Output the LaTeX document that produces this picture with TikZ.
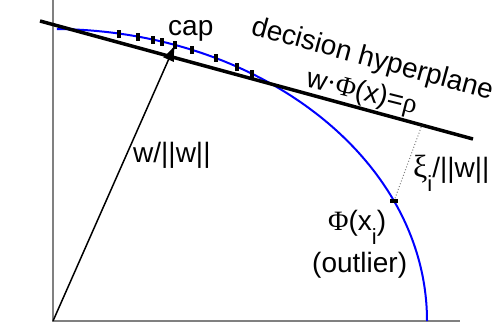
\documentclass[tikz,border=0pt]{standalone}
\usepackage{fontspec}
\setmainfont{Liberation Sans}
\newfontfamily\grk{Liberation Serif}
\usetikzlibrary{calc,arrows.meta}
\tikzset{
  axis/.style={draw=gray, line width=1.6bp},
  curve/.style={draw=blue, line width=2bp},
  plane/.style={draw=black, line width=3.5bp},
  vec/.style={draw=black, line width=1.5bp, -{Latex[length=16bp,width=12bp]}},
  gap/.style={draw=gray, dotted, line width=1bp},
  tick/.style={fill=black, inner sep=0pt, minimum width=4bp, minimum height=8bp},
  htick/.style={fill=black, inner sep=0pt, minimum width=8bp, minimum height=4bp},
  lab/.style={inner sep=0pt, anchor=base west, font=\fontsize{28bp}{32bp}\selectfont},
}
\newcommand{\subi}{\raisebox{-0.5em}{\fontsize{22bp}{24bp}\selectfont i}}
\newcommand{\gk}[1]{{\grk #1}}
\newcommand{\gkbig}[1]{{\grk\fontsize{32bp}{34bp}\selectfont #1}}
\begin{document}
\begin{tikzpicture}[x=1bp,y=1bp]
\useasboundingbox (0,0) rectangle (501,331);
\coordinate (C) at (53,10);
\coordinate (O) at (53,10);
% axes
\coordinate (Ytop) at (53,331);
\coordinate (Xend) at (460,10);
\draw[axis] (Ytop) -- (O) -- (Xend);
% blue curve
\draw[curve] ($(C)+(0:374 and 292)$) arc[start angle=0, end angle=89.4, x radius=374, y radius=292];
% hyperplane
\coordinate (H1) at (40,310);
\coordinate (H2) at (473,192);
\draw[plane] (H1) -- (H2);
% points on curve
\foreach \t in {79.83,76.86,74.49,73.06,68.18,64.16,60.53,57.85}{
  \node[tick] at ($(C)+(\t:374 and 292)$) {};
}
\coordinate (P) at ($(C)+(70.96:374 and 292)$);
\node[tick] (cappt) at (P) {};
\coordinate (Q) at ($(C)+(24.25:374 and 292)$);
\coordinate (F) at ($(H1)!0.882!(H2)$);
\draw[gap] (Q) -- (F);
\node[htick] (outpt) at (Q) {};
% vector
\draw[vec] (O) -- (P);
% labels
\node[lab] (lcap) at (168,296) {cap};
\node[lab, rotate=-15.3] (lplane) at (250,297) {decision hyperplane};
\node[lab, rotate=-14] (leq) at (305,245) {w\gk{·Φ}(x)=\gk{ρ}};
\node[lab] (lw) at (133,169) {w/||w||};
\node[lab] (lxi) at (413,154) {\gkbig{ξ}\subi/||w||};
\node[lab] (lphi) at (328,101) {\gk{Φ}(x\subi)};
\node[lab] (lout) at (312,59) {(outlier)};
\end{tikzpicture}
\end{document}
